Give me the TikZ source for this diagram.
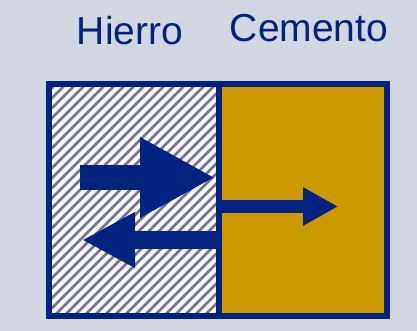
\documentclass[tikz,border=0pt]{standalone}
\usepackage{fontspec}
\setmainfont{Liberation Sans}
\usetikzlibrary{arrows.meta}
\definecolor{navy}{HTML}{00237F}
\definecolor{gold}{HTML}{CC9900}
\definecolor{sky}{HTML}{D2D6E1}
\definecolor{stripe}{HTML}{7070A2}
\begin{document}
\begin{tikzpicture}[
  x=1pt, y=-1pt,
  label/.style={anchor=base, text=navy, font=\fontsize{39}{41}\selectfont, inner sep=0pt},
  frame/.style={draw=navy, line width=6pt},
  hatch/.style={stripe, line width=2.8pt},
  push/.style={navy, line width=#1},
]
  \fill[sky] (0,0) rectangle (417,331);
  \useasboundingbox (0,0) rectangle (417,331);

  % labels
  \node[label] (iron) at (130,45) {Hierro};
  \node[label] (cement) at (309,42) {Cemento};

  % cells
  \fill[white] (49,84) rectangle (219,316);
  \fill[gold] (219,84) rectangle (387,316);
  \begin{scope}
    \clip (49,84) rectangle (219,316);
    \foreach \k in {-250,-240,...,220} {
      \draw[hatch] (\k,330) -- (\k+260,70);
    }
  \end{scope}

  % arrows
  \coordinate (inA) at (80,177.5);
  \coordinate (inB) at (215,177.5);
  \coordinate (backA) at (219,240);
  \coordinate (backB) at (82,240);
  \coordinate (outA) at (219,206.5);
  \coordinate (outB) at (338,206.5);

  \draw[push=25pt, -{Triangle[length=75pt, width=75pt]}] (inA) -- (inB);
  \draw[push=18pt, -{Triangle[length=53pt, width=52pt]}] (backA) -- (backB);
  \draw[push=13pt, -{Triangle[length=35pt, width=36pt]}] (outA) -- (outB);

  % frame
  \draw[frame] (49,84) rectangle (387,316);
  \draw[frame] (219,84) -- (219,316);
\end{tikzpicture}
\end{document}
